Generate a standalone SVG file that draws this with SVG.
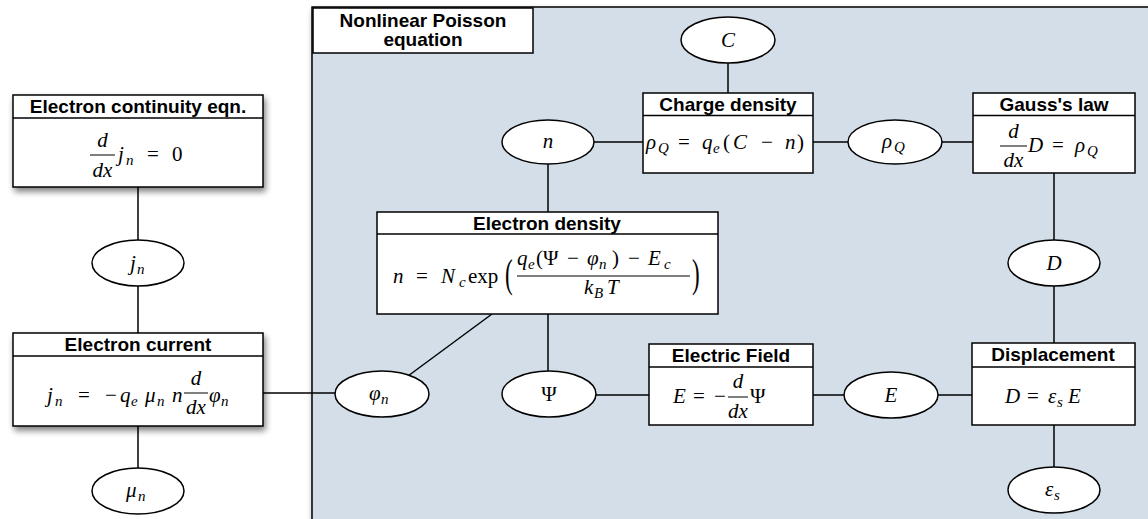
<svg xmlns="http://www.w3.org/2000/svg" width="1148" height="519" viewBox="0 0 1148 519">
<defs>
<filter id="sh" x="-10%" y="-10%" width="130%" height="140%">
<feGaussianBlur in="SourceAlpha" stdDeviation="3"/>
<feOffset dx="2" dy="4" result="b"/>
<feComponentTransfer><feFuncA type="linear" slope="0.5"/></feComponentTransfer>
<feMerge><feMergeNode/><feMergeNode in="SourceGraphic"/></feMerge>
</filter>
<style>
.bx{fill:#fff;stroke:#000;stroke-width:1.5}
.dv{stroke:#000;stroke-width:1.5}
.el{fill:#fff;stroke:#000;stroke-width:1.5}
.ln{stroke:#000;stroke-width:1.5;fill:none}
.t{font-family:"Liberation Sans",Arial,sans-serif;font-weight:bold;font-size:19px;text-anchor:middle;fill:#000}
.m{font-family:"Liberation Serif","Times New Roman",serif;font-style:italic;font-size:21px;fill:#000}
.u{font-style:normal}
.s{font-size:15px}
.c{text-anchor:middle}
.fl{stroke:#000;stroke-width:1}
.bp{font-family:"Liberation Serif","Times New Roman",serif;font-size:23px;fill:#000}
</style>
</defs>

<g id="panel">
<rect x="312" y="7" width="860" height="530" fill="#d4dee9" stroke="#000" stroke-width="1.5" filter="url(#sh)"/>
<rect x="313" y="8" width="220" height="45" class="bx"/>
<text class="t" x="423" y="27">Nonlinear Poisson</text>
<text class="t" x="423" y="46">equation</text>
</g>

<g id="connectors">
<line class="ln" x1="138" y1="187" x2="138" y2="240"/>
<line class="ln" x1="138" y1="286" x2="138" y2="333"/>
<line class="ln" x1="138" y1="426" x2="138" y2="468"/>
<line class="ln" x1="263" y1="393" x2="335" y2="393"/>
<line class="ln" x1="408" y1="376" x2="492" y2="314"/>
<line class="ln" x1="548" y1="371" x2="548" y2="314"/>
<line class="ln" x1="548" y1="164" x2="548" y2="212"/>
<line class="ln" x1="594" y1="142" x2="643" y2="142"/>
<line class="ln" x1="728" y1="63" x2="728" y2="93"/>
<line class="ln" x1="813" y1="142" x2="848" y2="142"/>
<line class="ln" x1="942" y1="142" x2="973" y2="142"/>
<line class="ln" x1="1054" y1="173" x2="1054" y2="240"/>
<line class="ln" x1="1054" y1="286" x2="1054" y2="343"/>
<line class="ln" x1="1054" y1="425" x2="1054" y2="467"/>
<line class="ln" x1="596" y1="395" x2="649" y2="395"/>
<line class="ln" x1="813" y1="395" x2="844" y2="395"/>
<line class="ln" x1="938" y1="395" x2="972" y2="395"/>
</g>

<g id="continuity">
<rect x="13" y="95" width="250" height="92" class="bx" filter="url(#sh)"/>
<line class="dv" x1="13" y1="118" x2="263" y2="118"/>
<text class="t" x="138" y="113">Electron continuity eqn.</text>
<text class="m c" x="102.5" y="147">d</text>
<line class="fl" x1="90" y1="155" x2="115" y2="155"/>
<text class="m c" x="102.5" y="177">dx</text>
<text class="m" y="161"><tspan x="118">j</tspan><tspan class="s" x="126" dy="4">n</tspan><tspan class="u" x="147" dy="-4">=</tspan><tspan class="u" x="172">0</tspan></text>
</g>

<g id="jn">
<ellipse cx="138" cy="263" rx="46" ry="23" class="el"/>
<text class="m" y="270"><tspan x="130">j</tspan><tspan class="s" x="137" dy="4">n</tspan></text>
</g>

<g id="current">
<rect x="13" y="333" width="250" height="93" class="bx" filter="url(#sh)"/>
<line class="dv" x1="13" y1="356" x2="263" y2="356"/>
<text class="t" x="138" y="351">Electron current</text>
<text class="m" y="402"><tspan x="47">j</tspan><tspan class="s" x="55" dy="4">n</tspan><tspan class="u" x="78" dy="-4">=</tspan><tspan class="u" x="105">−</tspan><tspan x="120">q</tspan><tspan class="s" x="131" dy="4">e</tspan><tspan x="145" dy="-4">μ</tspan><tspan class="s" x="157" dy="4">n</tspan><tspan x="172" dy="-4">n</tspan><tspan x="209">φ</tspan><tspan class="s" x="221" dy="4">n</tspan></text>
<text class="m c" x="196" y="385">d</text>
<line class="fl" x1="184" y1="393" x2="208" y2="393"/>
<text class="m c" x="196" y="414">dx</text>
</g>

<g id="mun">
<ellipse cx="138" cy="491" rx="46" ry="23" class="el"/>
<text class="m" y="497"><tspan x="126">μ</tspan><tspan class="s" x="138" dy="4">n</tspan></text>
</g>

<g id="phin">
<ellipse cx="382" cy="394" rx="47" ry="23" class="el"/>
<text class="m" y="400"><tspan x="369">φ</tspan><tspan class="s" x="381" dy="4">n</tspan></text>
</g>

<g id="psi">
<ellipse cx="549" cy="394" rx="47" ry="23" class="el"/>
<text class="m u c" x="549" y="401">Ψ</text>
</g>

<g id="edensity">
<rect x="377" y="212" width="341" height="102" class="bx"/>
<line class="dv" x1="377" y1="234" x2="718" y2="234"/>
<text class="t" x="547" y="230">Electron density</text>
<text class="m" y="283"><tspan x="393">n</tspan><tspan class="u" x="416">=</tspan><tspan x="441">N</tspan><tspan class="s" x="459" dy="4">c</tspan><tspan class="u" x="468" dy="-4">exp</tspan></text>
<text class="bp" transform="translate(505,287) scale(1,1.7)">(</text>
<text class="m" y="265"><tspan x="517">q</tspan><tspan class="s" x="528" dy="4">e</tspan><tspan class="u" x="536" dy="-4">(</tspan><tspan class="u" x="543">Ψ</tspan><tspan class="u" x="567">−</tspan><tspan x="587">φ</tspan><tspan class="s" x="599" dy="4">n</tspan><tspan class="u" x="612" dy="-4">)</tspan><tspan class="u" x="628">−</tspan><tspan x="648">E</tspan><tspan class="s" x="664" dy="4">c</tspan></text>
<line class="fl" x1="517" y1="276" x2="690" y2="276"/>
<text class="m" y="294"><tspan x="584">k</tspan><tspan class="s" x="594" dy="4">B</tspan><tspan x="607" dy="-4">T</tspan></text>
<text class="bp" transform="translate(692,287) scale(1,1.7)">)</text>
</g>

<g id="n">
<ellipse cx="548" cy="142" rx="46" ry="22" class="el"/>
<text class="m c" x="548" y="148">n</text>
</g>

<g id="C">
<ellipse cx="728" cy="40" rx="47" ry="23" class="el"/>
<text class="m c" x="728" y="47">C</text>
</g>

<g id="charge">
<rect x="643" y="93" width="170" height="80" class="bx"/>
<line class="dv" x1="643" y1="115.5" x2="813" y2="115.5"/>
<text class="t" x="728" y="111">Charge density</text>
<text class="m" y="149"><tspan x="646">ρ</tspan><tspan class="s" x="658" dy="4">Q</tspan><tspan class="u" x="678" dy="-4">=</tspan><tspan x="702">q</tspan><tspan class="s" x="713" dy="4">e</tspan><tspan class="u" x="723" dy="-4">(</tspan><tspan x="733">C</tspan><tspan class="u" x="761">−</tspan><tspan x="785">n</tspan><tspan class="u" x="797">)</tspan></text>
</g>

<g id="rhoQ">
<ellipse cx="895" cy="142" rx="47" ry="22" class="el"/>
<text class="m" y="148"><tspan x="882">ρ</tspan><tspan class="s" x="894" dy="4">Q</tspan></text>
</g>

<g id="gauss">
<rect x="973" y="93" width="162" height="80" class="bx"/>
<line class="dv" x1="973" y1="115.5" x2="1135" y2="115.5"/>
<text class="t" x="1054" y="111">Gauss's law</text>
<text class="m c" x="1013.5" y="138">d</text>
<line class="fl" x1="1000" y1="146" x2="1027" y2="146"/>
<text class="m c" x="1013.5" y="167">dx</text>
<text class="m" y="152"><tspan x="1028">D</tspan><tspan class="u" x="1052">=</tspan><tspan x="1075">ρ</tspan><tspan class="s" x="1087" dy="4">Q</tspan></text>
</g>

<g id="D">
<ellipse cx="1054" cy="263" rx="46" ry="23" class="el"/>
<text class="m c" x="1054" y="270">D</text>
</g>

<g id="efield">
<rect x="649" y="344" width="164" height="81" class="bx"/>
<line class="dv" x1="649" y1="367" x2="813" y2="367"/>
<text class="t" x="731" y="362">Electric Field</text>
<text class="m" y="403"><tspan x="673">E</tspan><tspan class="u" x="693">=</tspan><tspan class="u" x="714">−</tspan><tspan class="u" x="750">Ψ</tspan></text>
<text class="m c" x="738" y="388">d</text>
<line class="fl" x1="728" y1="397" x2="748" y2="397"/>
<text class="m c" x="738" y="418">dx</text>
</g>

<g id="E">
<ellipse cx="891" cy="395" rx="47" ry="23" class="el"/>
<text class="m c" x="891" y="402">E</text>
</g>

<g id="displacement">
<rect x="972" y="343" width="163" height="82" class="bx"/>
<line class="dv" x1="972" y1="367" x2="1135" y2="367"/>
<text class="t" x="1053" y="361">Displacement</text>
<text class="m" y="403"><tspan x="1005">D</tspan><tspan class="u" x="1027">=</tspan><tspan x="1048">ε</tspan><tspan class="s" x="1057" dy="4">s</tspan><tspan x="1068" dy="-4">E</tspan></text>
</g>

<g id="eps">
<ellipse cx="1054" cy="490" rx="46" ry="23" class="el"/>
<text class="m" y="496"><tspan x="1045">ε</tspan><tspan class="s" x="1054" dy="4">s</tspan></text>
</g>
</svg>
